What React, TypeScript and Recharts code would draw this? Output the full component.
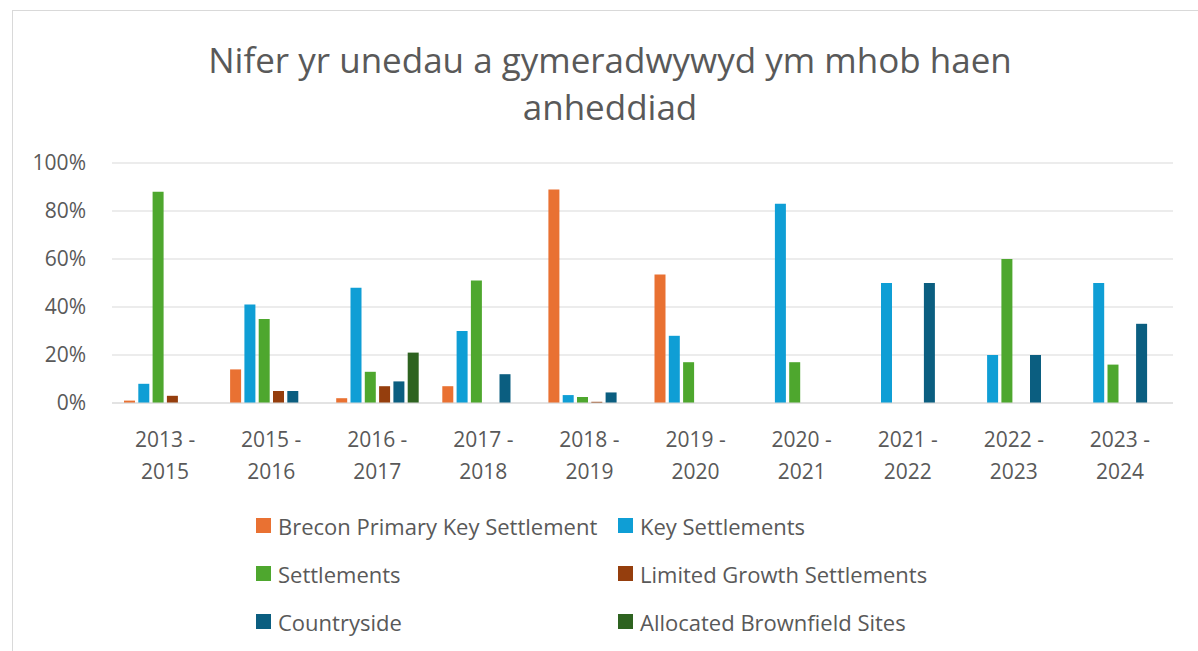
import React from 'react'
import { BarChart, Bar, XAxis, YAxis, CartesianGrid } from 'recharts'

const periods = [
  '2013 - 2015',
  '2015 - 2016',
  '2016 - 2017',
  '2017 - 2018',
  '2018 - 2019',
  '2019 - 2020',
  '2020 - 2021',
  '2021 - 2022',
  '2022 - 2023',
  '2023 - 2024',
]

// share of approved units per settlement tier, in percent
const breconPrimary = [1, 14, 2, 7, 89, 53.5, 0, 0, 0, 0]
const keySettlements = [8, 41, 48, 30, 3.3, 28, 83, 50, 20, 50]
const settlements = [88, 35, 13, 51, 2.5, 17, 17, 0, 60, 16]
const limitedGrowth = [3, 5, 7, 0, 0.5, 0, 0, 0, 0, 0]
const countryside = [0, 5, 9, 12, 4.4, 0, 0, 50, 20, 33]
const brownfield = [0, 0, 21, 0, 0, 0, 0, 0, 0, 0]

const yTicks = [0, 20, 40, 60, 80, 100]

const series = [
  { key: 'brecon', name: 'Brecon Primary Key Settlement', color: '#E97132', values: breconPrimary },
  { key: 'key', name: 'Key Settlements', color: '#0F9ED5', values: keySettlements },
  { key: 'settlements', name: 'Settlements', color: '#4EA72E', values: settlements },
  { key: 'limited', name: 'Limited Growth Settlements', color: '#953E0D', values: limitedGrowth },
  { key: 'countryside', name: 'Countryside', color: '#0B5E80', values: countryside },
  { key: 'brownfield', name: 'Allocated Brownfield Sites', color: '#2E6320', values: brownfield },
]

const data = periods.map((period, i) => {
  const row: Record<string, string | number> = { period }
  series.forEach((s) => {
    row[s.key] = s.values[i]
  })
  return row
})

const FONT = "'Open Sans', 'Noto Sans', sans-serif"
const TEXT = '#595959'

function PeriodTick(props: any) {
  const { x, y, payload } = props
  const [a, b] = String(payload.value).split(' - ')
  return (
    <text textAnchor="middle" fill={TEXT} fontSize={21} fontFamily={FONT}>
      <tspan x={x} y={y + 44}>{`${a} -`}</tspan>
      <tspan x={x} y={y + 76}>{b}</tspan>
    </text>
  )
}

function PercentTick(props: any) {
  const { x, y, payload } = props
  return (
    <text x={x} y={y} dy={7} textAnchor="end" fill={TEXT} fontSize={21} fontFamily={FONT}>
      {`${payload.value}%`}
    </text>
  )
}

export default function App() {
  return (
    <div
      style={{
        position: 'absolute',
        left: 0,
        top: 0,
        width: 1198,
        height: 651,
        overflow: 'hidden',
        background: '#fff',
        fontFamily: FONT,
      }}
    >
      <div
        style={{
          position: 'absolute',
          left: 12,
          top: 10,
          width: 1196,
          height: 700,
          border: '1px solid #d9d9d9',
          boxSizing: 'border-box',
        }}
      />
      <div
        style={{
          position: 'absolute',
          left: 12,
          top: 36,
          width: 1196,
          textAlign: 'center',
          color: TEXT,
          fontSize: 35,
          lineHeight: '47px',
        }}
      >
        Nifer yr unedau a gymeradwywyd ym mhob haen
        <br />
        anheddiad
      </div>

      <div style={{ position: 'absolute', left: 0, top: 0 }}>
        <BarChart
          width={1198}
          height={651}
          data={data}
          margin={{ top: 163, right: 25, bottom: 158, left: 12 }}
          barSize={11}
          barGap={3.3}
        >
          <CartesianGrid vertical={false} stroke="#d9d9d9" strokeWidth={1.2} />
          <XAxis
            dataKey="period"
            tickLine={false}
            tickSize={0}
            tickMargin={0}
            axisLine={{ stroke: '#d9d9d9', strokeWidth: 1.2 }}
            tick={<PeriodTick />}
            height={90}
            interval={0}
          />
          <YAxis
            domain={[0, 100]}
            ticks={yTicks}
            width={100}
            axisLine={false}
            tickLine={false}
            tickSize={0}
            tickMargin={26}
            tick={<PercentTick />}
          />
          {series.map((s) => (
            <Bar
              key={s.key}
              dataKey={s.key}
              name={s.name}
              fill={s.color}
              isAnimationActive={false}
            />
          ))}
        </BarChart>
      </div>

      <div
        style={{
          position: 'absolute',
          left: 256,
          top: 509,
          display: 'grid',
          gridTemplateColumns: '362px auto',
          rowGap: 15,
          color: TEXT,
          fontSize: 22,
        }}
      >
        {series.map((s) => (
          <div key={s.key} style={{ display: 'flex', alignItems: 'center', height: 33 }}>
            <span
              style={{ width: 15, height: 15, background: s.color, marginRight: 7, flexShrink: 0 }}
            />
            <span style={{ whiteSpace: 'nowrap' }}>{s.name}</span>
          </div>
        ))}
      </div>
    </div>
  )
}
